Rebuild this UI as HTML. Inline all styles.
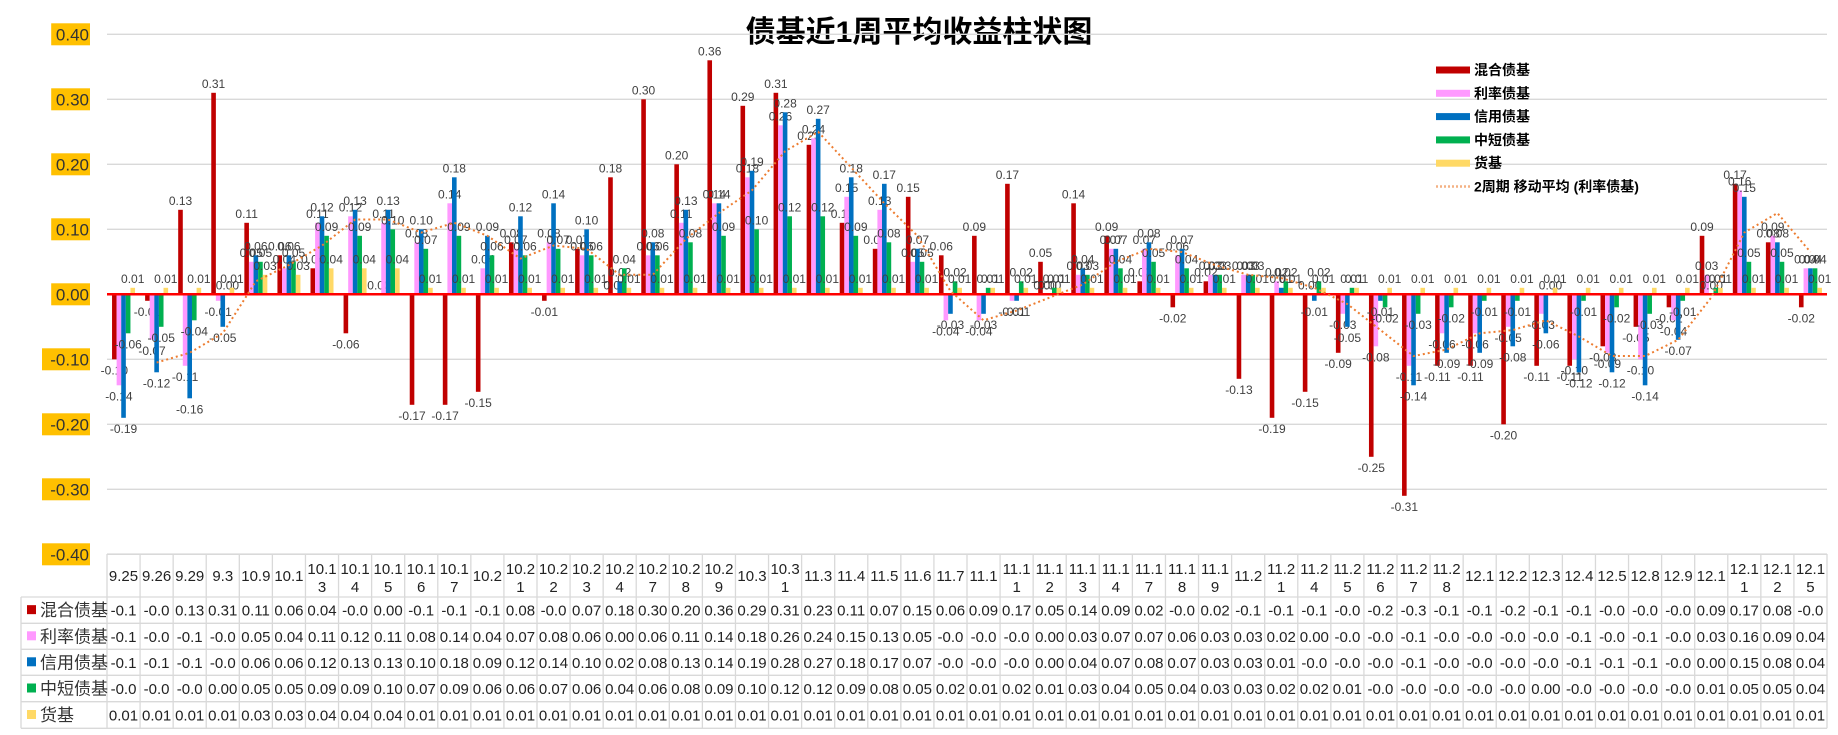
<!DOCTYPE html>
<html><head><meta charset="utf-8"><style>
body{margin:0;background:#fff;width:1838px;height:735px;overflow:hidden;font-family:"Liberation Sans","Noto Sans CJK SC",sans-serif}
</style></head><body>
<svg id="chart" width="1838" height="735" xmlns="http://www.w3.org/2000/svg" style="position:absolute;left:0;top:0"></svg>
<script>
const categories=["9.25","9.26","9.29","9.3","10.9","10.1","10.13","10.14","10.15","10.16","10.17","10.2","10.21","10.22","10.23","10.24","10.27","10.28","10.29","10.3","10.31","11.3","11.4","11.5","11.6","11.7","11.1","11.11","11.12","11.13","11.14","11.17","11.18","11.19","11.2","11.21","11.24","11.25","11.26","11.27","11.28","12.1","12.2","12.3","12.4","12.5","12.8","12.9","12.1","12.11","12.12","12.15"];
const seriesNames=["混合债基","利率债基","信用债基","中短债基","货基"];
const mixed=[-0.10,-0.01,0.13,0.31,0.11,0.06,0.04,-0.06,0.00,-0.17,-0.17,-0.15,0.08,-0.01,0.07,0.18,0.30,0.20,0.36,0.29,0.31,0.23,0.11,0.07,0.15,0.06,0.09,0.17,0.05,0.14,0.09,0.02,-0.02,0.02,-0.13,-0.19,-0.15,-0.09,-0.25,-0.31,-0.11,-0.11,-0.20,-0.11,-0.11,-0.08,-0.05,-0.02,0.09,0.17,0.08,-0.02];
const rate=[-0.14,-0.07,-0.11,-0.01,0.05,0.04,0.11,0.12,0.11,0.08,0.14,0.04,0.07,0.08,0.06,0.00,0.06,0.11,0.14,0.18,0.26,0.24,0.15,0.13,0.05,-0.04,-0.04,-0.01,0.00,0.03,0.07,0.07,0.06,0.03,0.03,0.02,0.00,-0.03,-0.08,-0.11,-0.06,-0.06,-0.05,-0.03,-0.10,-0.09,-0.10,-0.04,0.03,0.16,0.09,0.04];
const credit=[-0.19,-0.12,-0.16,-0.05,0.06,0.06,0.12,0.13,0.13,0.10,0.18,0.09,0.12,0.14,0.10,0.02,0.08,0.13,0.14,0.19,0.28,0.27,0.18,0.17,0.07,-0.03,-0.03,-0.01,0.00,0.04,0.07,0.08,0.07,0.03,0.03,0.01,-0.01,-0.05,-0.01,-0.14,-0.09,-0.09,-0.08,-0.06,-0.12,-0.12,-0.14,-0.07,0.00,0.15,0.08,0.04];
const shortTerm=[-0.06,-0.05,-0.04,0.00,0.05,0.05,0.09,0.09,0.10,0.07,0.09,0.06,0.06,0.07,0.06,0.04,0.06,0.08,0.09,0.10,0.12,0.12,0.09,0.08,0.05,0.02,0.01,0.02,0.01,0.03,0.04,0.05,0.04,0.03,0.03,0.02,0.02,0.01,-0.02,-0.03,-0.02,-0.01,-0.01,0.00,-0.01,-0.02,-0.03,-0.01,0.01,0.05,0.05,0.04];
const money=[0.01,0.01,0.01,0.01,0.03,0.03,0.04,0.04,0.04,0.01,0.01,0.01,0.01,0.01,0.01,0.01,0.01,0.01,0.01,0.01,0.01,0.01,0.01,0.01,0.01,0.01,0.01,0.01,0.01,0.01,0.01,0.01,0.01,0.01,0.01,0.01,0.01,0.01,0.01,0.01,0.01,0.01,0.01,0.01,0.01,0.01,0.01,0.01,0.01,0.01,0.01,0.01];
const yTicks=[0.40,0.30,0.20,0.10,0.00,-0.10,-0.20,-0.30,-0.40];

const svg=document.getElementById('chart');const NS="http://www.w3.org/2000/svg";
const colors=["#C00000","#FF99FF","#0070C0","#00B050","#FFD966"];
const series=[mixed,rate,credit,shortTerm,money];
const X0=107,X1=1827,N=categories.length,CW=(X1-X0)/N;
const y=v=>294.3-v*650;
const xc=i=>X0+CW*(i+0.5);
function mk(t,a,txt){const e=document.createElementNS(NS,t);for(const k in a)e.setAttribute(k,a[k]);if(txt!==undefined)e.textContent=txt;svg.appendChild(e);return e;}
let t=mk('text',{x:919,y:42,'text-anchor':'middle','font-size':30,'font-weight':'bold',fill:'#000'},'债基近1周平均收益柱状图');


yTicks.forEach(v=>{
 if(Math.abs(v)>1e-9){let g=mk('line',{x1:X0,x2:X1,y1:y(v),y2:y(v),stroke:'#d9d9d9','stroke-width':1.3});
 
 }
 const s=v.toFixed(2);const w=s.length*9.2+2;
 let r=mk('rect',{x:90-w,y:y(v)-11,width:w,height:22,fill:'#FFC000'});
 
 
 let l=mk('text',{x:89,y:y(v)+6,'text-anchor':'end','font-size':17,fill:'#333'},s);
 
 
});
const BW=4.6,OFF=(CW-5*BW)/2;
series.forEach((arr,s)=>{arr.forEach((v,i)=>{
 const bx=X0+CW*i+OFF+s*BW;const top=Math.min(y(v),y(0)),h=Math.abs(y(v)-y(0));
 let b=mk('rect',{x:bx,y:top,width:BW,height:Math.max(h,0.5),fill:colors[s]});
 
 
 let lb=mk('text',{x:bx+BW/2,y:v>=0?top-5:top+h+15,'text-anchor':'middle','font-size':12,fill:'#404040'},v.toFixed(2));
 
 
});});
let z=mk('line',{x1:X0,x2:X1,y1:y(0),y2:y(0),stroke:'#FF0000','stroke-width':2.5});


let pts=[];for(let i=1;i<N;i++){pts.push(xc(i)+','+y((rate[i]+rate[i-1])/2));}
let ma=mk('polyline',{points:pts.join(' '),fill:'none',stroke:'#ED7D31','stroke-width':2,'stroke-dasharray':'2 3'});


const legNames=[...seriesNames,'2周期 移动平均 (利率债基)'];
legNames.forEach((n,k)=>{const ly=70+k*23.3;
 let sw=k<5?mk('rect',{x:1436,y:ly-3.5,width:34,height:7,fill:colors[k]}):mk('line',{x1:1436,x2:1470,y1:ly,y2:ly,stroke:'#F4B183','stroke-width':2.5,'stroke-dasharray':'2 2'});
 
 
 let lt=mk('text',{x:1474,y:ly+5,'font-size':14,'font-weight':'bold',fill:'#000'},n);
 
 
});
const TY=[554,597,623.3,649.3,675.3,701.7,728.3];
function ln(x1,y1,x2,y2){let l=mk('line',{x1,y1,x2,y2,stroke:'#d9d9d9','stroke-width':1.3});}
ln(X0,TY[0],X1,TY[0]);
for(let r=1;r<7;r++)ln(21,TY[r],X1,TY[r]);
for(let i=0;i<=N;i++)ln(X0+CW*i,TY[0],X0+CW*i,TY[6]);
ln(21,TY[1],21,TY[6]);
categories.forEach((c,i)=>{
 if(c.length>4){
  let a=mk('text',{x:xc(i),y:574,'text-anchor':'middle','font-size':15,fill:'#222'},c.slice(0,4));
  
  
  let b=mk('text',{x:xc(i),y:592,'text-anchor':'middle','font-size':15,fill:'#222'},c.slice(4));
  
  
 }else{let a=mk('text',{x:xc(i),y:581,'text-anchor':'middle','font-size':15,fill:'#222'},c);
  
  }
});
series.forEach((arr,s)=>{const cy=(TY[s+1]+TY[s+2])/2;
 let sq=mk('rect',{x:27,y:cy-5,width:9,height:9,fill:colors[s]});
 
 
 let nm=mk('text',{x:40,y:cy+6,'font-size':17,fill:'#333'},seriesNames[s]);
 
 
 arr.forEach((v,i)=>{let c=mk('text',{x:xc(i),y:cy+5.5,'text-anchor':'middle','font-size':15,fill:'#222'},v.toFixed(2).slice(0,4));
  
  });
});
</script>
</body></html>
